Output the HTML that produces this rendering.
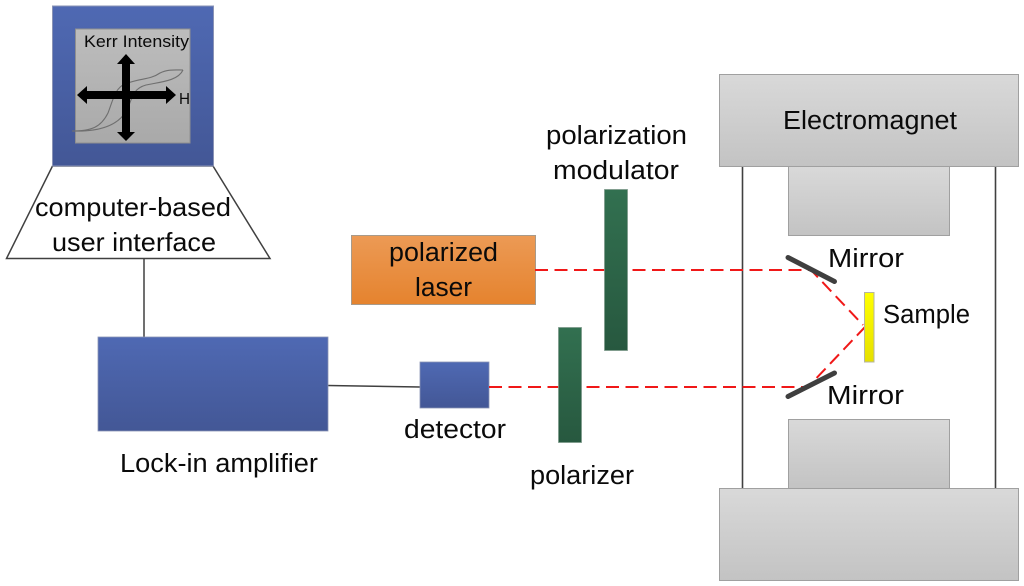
<!DOCTYPE html>
<html><head><meta charset="utf-8"><style>
html,body{margin:0;padding:0;background:#fff}
svg{display:block}
text{font-family:"Liberation Sans",sans-serif;fill:#0a0a0a}
</style></head><body>
<svg width="1024" height="586" viewBox="0 0 1024 586" xmlns="http://www.w3.org/2000/svg">
<defs>
<linearGradient id="b" x1="0" y1="0" x2="0" y2="1"><stop offset="0" stop-color="#4f69b3"/><stop offset="1" stop-color="#435796"/></linearGradient>
<linearGradient id="g" x1="0" y1="0" x2="0" y2="1"><stop offset="0" stop-color="#d9d9d9"/><stop offset="1" stop-color="#c3c3c3"/></linearGradient>
<linearGradient id="g2" x1="0" y1="0" x2="0" y2="1"><stop offset="0" stop-color="#bdbdbd"/><stop offset="1" stop-color="#a9a9a9"/></linearGradient>
<linearGradient id="o" x1="0" y1="0" x2="0" y2="1"><stop offset="0" stop-color="#ec9a55"/><stop offset="1" stop-color="#e5832e"/></linearGradient>
<linearGradient id="t" x1="0" y1="0" x2="0" y2="1"><stop offset="0" stop-color="#327050"/><stop offset="1" stop-color="#27583f"/></linearGradient>
<linearGradient id="y" x1="0" y1="0" x2="0" y2="1"><stop offset="0" stop-color="#ffff00"/><stop offset="1" stop-color="#e6e000"/></linearGradient>
</defs>

<!-- electromagnet -->
<g stroke="#a0a0a0" stroke-width="1">
<line x1="742.5" y1="166" x2="742.5" y2="488" stroke="#404040" stroke-width="1.6"/>
<line x1="995.5" y1="166" x2="995.5" y2="488" stroke="#404040" stroke-width="1.6"/>
<rect x="788.5" y="166.5" width="161" height="69" fill="url(#g)"/>
<rect x="788.5" y="419.5" width="161" height="69" fill="url(#g)"/>
<rect x="719.5" y="74.5" width="299" height="92" fill="url(#g)"/>
<rect x="719.5" y="488.5" width="299" height="92" fill="url(#g)"/>
</g>

<!-- computer -->
<polygon points="52.5,166 213,166 270,258.500 6.500,258.500" fill="#fff" stroke="#404040" stroke-width="1.5"/>
<rect x="52.500" y="6" width="161" height="160" fill="url(#b)" stroke="#8a93b5" stroke-width="1"/>
<rect x="75.500" y="29" width="114.500" height="114" fill="url(#g2)" stroke="#8f8f8f" stroke-width="1"/>
<g fill="none" stroke="#6f6f6f" stroke-width="1.100">
<path d="M72,131 C92,131 101,127 108,113 C113,100 115,88 125,84 C140,78 150,80 160,73 C168,69 176,70 183,70"/>
<path d="M72,131 C100,132 120,125 128,108 C133,94 135,88 146,85 C160,82 178,81 183,70"/>
</g>
<polygon points="126,54 135,64 130,64 130,91 166,91 166,86 176,95 166,104 166,99 130,99 130,132 135,132 126,141 117,132 122,132 122,99 87,99 87,104 77,95 87,86 87,91 122,91 122,64 117,64" fill="#000"/>
<text x="84" y="47" font-size="16.500" textLength="105" lengthAdjust="spacingAndGlyphs">Kerr Intensity</text>
<text x="179" y="104" font-size="16" textLength="11" lengthAdjust="spacingAndGlyphs">H</text>
<text x="35" y="216" font-size="26" textLength="196" lengthAdjust="spacingAndGlyphs">computer-based</text>
<text x="52" y="251" font-size="26" textLength="164" lengthAdjust="spacingAndGlyphs">user interface</text>

<!-- wires -->
<line x1="144" y1="258" x2="144" y2="337" stroke="#404040" stroke-width="1.5"/>
<line x1="328" y1="385.500" x2="420" y2="387" stroke="#404040" stroke-width="1.6"/>

<!-- boxes -->
<rect x="98" y="337" width="230" height="94" fill="url(#b)" stroke="#8a93b5" stroke-width="0.8"/>
<rect x="420" y="362" width="69" height="46" fill="url(#b)" stroke="#8a93b5" stroke-width="0.8"/>
<rect x="351.500" y="235.500" width="184" height="69" fill="url(#o)" stroke="#a89a8a" stroke-width="1"/>

<!-- beam -->
<g fill="none" stroke="#f01818" stroke-width="2" stroke-dasharray="13 6.500">
<path d="M535,270 H811 L863,325"/>
<path d="M489,387 H808 L865,327"/>
</g>

<rect x="604.500" y="189.500" width="23" height="161" fill="url(#t)" stroke="#7d9a8b" stroke-width="0.8"/>
<rect x="558.500" y="327.500" width="23" height="115" fill="url(#t)" stroke="#7d9a8b" stroke-width="0.8"/>

<!-- mirrors and sample -->
<g stroke="#3f3f3f" stroke-width="5" stroke-linecap="round">
<line x1="788" y1="257.500" x2="834.500" y2="281.500"/>
<line x1="788" y1="396.500" x2="834.500" y2="373"/>
</g>
<rect x="864.500" y="292.500" width="9.500" height="69.500" fill="url(#y)" stroke="#b5b5a0" stroke-width="1"/>

<!-- labels -->
<text x="783" y="129" font-size="25.500" textLength="174" lengthAdjust="spacingAndGlyphs">Electromagnet</text>
<text x="546" y="144" font-size="25.500" textLength="141" lengthAdjust="spacingAndGlyphs">polarization</text>
<text x="553" y="179" font-size="25.500" textLength="126" lengthAdjust="spacingAndGlyphs">modulator</text>
<text x="389" y="261" font-size="25.500" textLength="109" lengthAdjust="spacingAndGlyphs">polarized</text>
<text x="415" y="296" font-size="25.500" textLength="57" lengthAdjust="spacingAndGlyphs">laser</text>
<text x="404" y="438" font-size="25.500" textLength="102" lengthAdjust="spacingAndGlyphs">detector</text>
<text x="530" y="484" font-size="25.500" textLength="104" lengthAdjust="spacingAndGlyphs">polarizer</text>
<text x="120" y="472" font-size="25.500" textLength="198" lengthAdjust="spacingAndGlyphs">Lock-in amplifier</text>
<text x="828" y="267" font-size="25.500" textLength="76" lengthAdjust="spacingAndGlyphs">Mirror</text>
<text x="827" y="404" font-size="25.500" textLength="77" lengthAdjust="spacingAndGlyphs">Mirror</text>
<text x="883" y="323" font-size="25.500" textLength="87" lengthAdjust="spacingAndGlyphs">Sample</text>
</svg>
</body></html>
